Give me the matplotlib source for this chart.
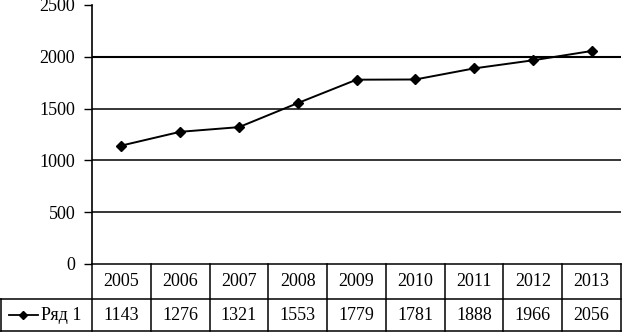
import numpy as np
import matplotlib
matplotlib.use("Agg")
from matplotlib import pyplot as plt
from matplotlib.transforms import blended_transform_factory

# datos
anios = ["2005", "2006", "2007", "2008", "2009", "2010", "2011", "2012", "2013"]
valores = [1143, 1276, 1321, 1553, 1779, 1781, 1888, 1966, 2056]
nombre_serie = "Ряд 1"
yticks = [0, 500, 1000, 1500, 2000, 2500]

plt.rcParams['font.family'] = ['Liberation Serif', 'DejaVu Serif']
fs = 13

W, H = 622, 332
fig = plt.figure(figsize=(W / 100, H / 100), dpi=100)
izq, der, arriba, abajo = 92, 621, 5, 264
ax = fig.add_axes([izq / W, (H - abajo) / H, (der - izq) / W, (abajo - arriba) / H])

x = np.arange(len(anios))
ax.set_xlim(-0.5, len(anios) - 0.5)
ax.set_ylim(0, 2500)

# lineas de grilla
for v in yticks[1:-1]:
    ax.axhline(v, color="black", lw=1.5 if v == 2000 else 1.1, zorder=1)

ax.plot(x, valores, color="black", lw=1.4, marker="D", ms=5.5, zorder=3)

ax.set_yticks(yticks)
ax.set_xticks([])
ax.tick_params(axis="y", direction="out", length=6, width=1, pad=6, labelsize=fs)
for s in ["top", "right", "bottom"]:
    ax.spines[s].set_visible(False)
ax.spines["left"].set_linewidth(1.2)

# tabla de datos debajo del eje
trans = blended_transform_factory(ax.transData, ax.transAxes)
alto_ax = abajo - arriba
fila1 = -(299 - abajo) / alto_ax
fila2 = -(331 - abajo) / alto_ax
x_izq = -0.5 - izq / ((der - izq) / len(anios))
x_der = len(anios) - 0.5
lk = dict(color="black", lw=1.1, clip_on=False, transform=trans)

ax.plot([-0.5, x_der], [0, 0], **lk)
ax.plot([x_izq, x_der], [fila1, fila1], **lk)
ax.plot([x_izq, x_der], [fila2, fila2], **lk)
ax.plot([x_izq + 0.01, x_izq + 0.01], [fila1, fila2], **lk)
for b in np.arange(-0.5, len(anios)):
    ax.plot([b, b], [0, fila2], **lk)

for i, (a, v) in enumerate(zip(anios, valores)):
    ax.text(i, fila1 / 2, a, ha="center", va="center", transform=trans, fontsize=fs)
    ax.text(i, (fila1 + fila2) / 2, str(v), ha="center", va="center", transform=trans, fontsize=fs)

# leyenda dentro de la celda
px = (der - izq) / len(anios)
def xd(p):
    return -0.5 + (p - izq) / px
ymed = (fila1 + fila2) / 2
ax.plot([xd(9), xd(38)], [ymed, ymed], color="black", lw=1.3, clip_on=False, transform=trans)
ax.plot([xd(23)], [ymed], color="black", marker="D", ms=4.5, clip_on=False, transform=trans)
ax.text(xd(41), ymed, nombre_serie, ha="left", va="center", transform=trans, fontsize=fs)

fig.savefig("out.png", dpi=100)
